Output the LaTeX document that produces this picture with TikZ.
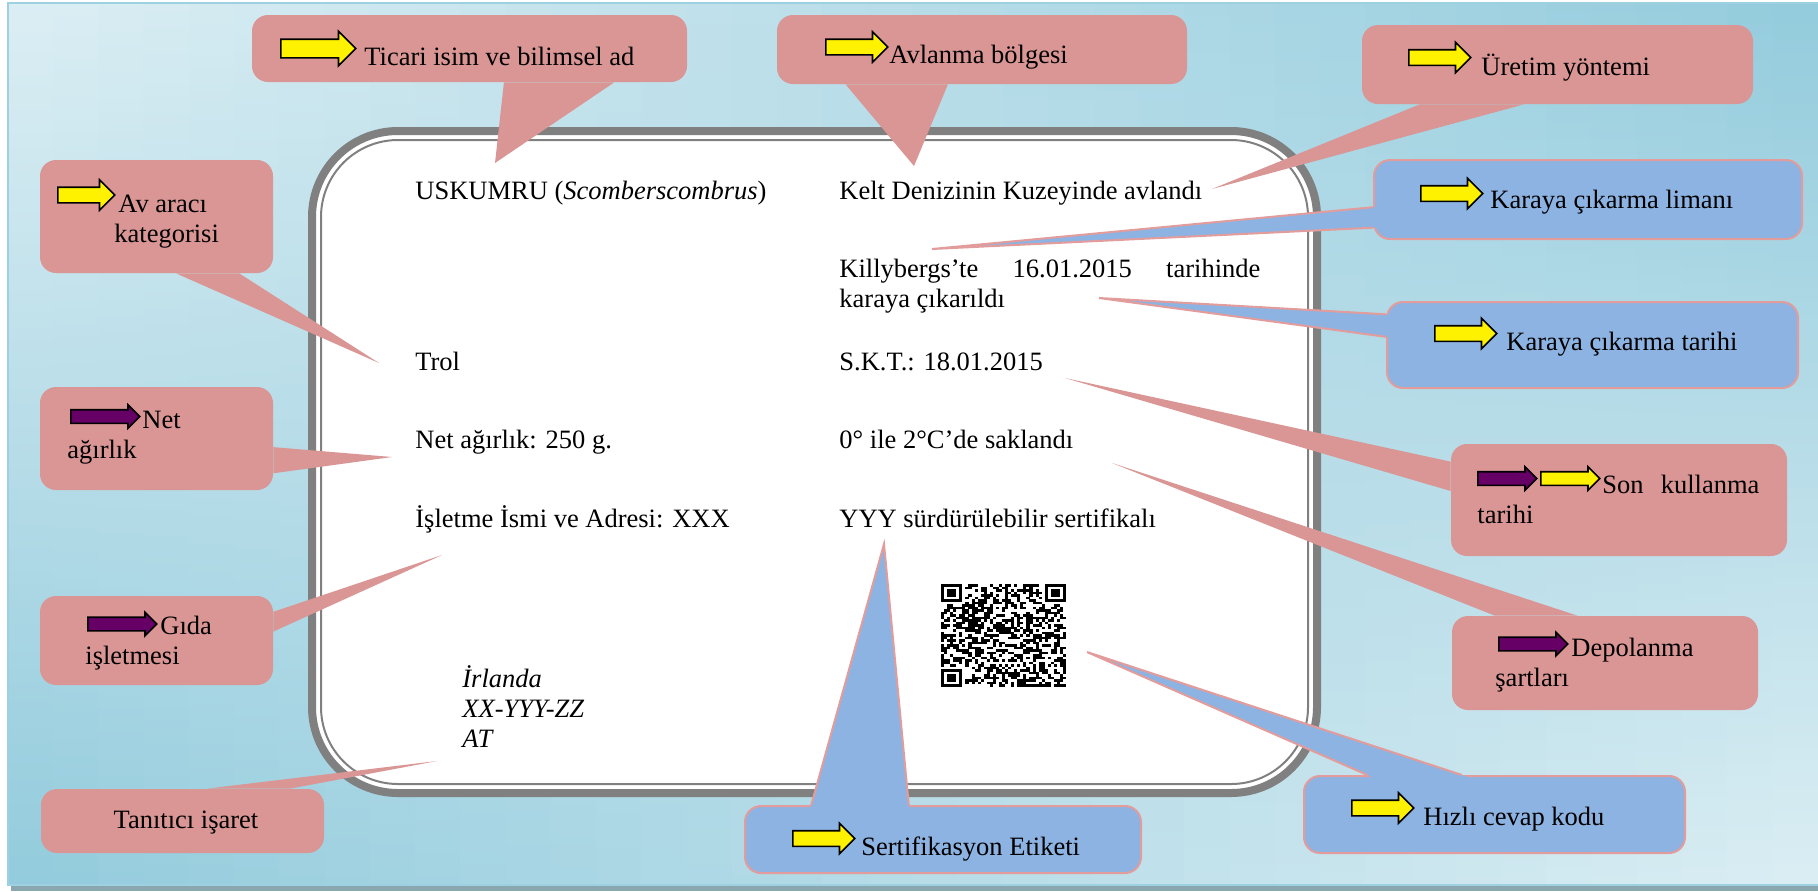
\documentclass[tikz,border=0pt]{standalone}
\usepackage{fontspec}
\setmainfont{Liberation Serif}
\usetikzlibrary{calc, shapes.arrows}

\definecolor{bglight}{HTML}{DCEEF4}
\definecolor{bgdark}{HTML}{92CBDC}
\definecolor{bgedge}{HTML}{9DD0E0}
\definecolor{bgshadow}{HTML}{8AA6AE}
\definecolor{pinkc}{HTML}{D99694}
\definecolor{bluec}{HTML}{8DB3E2}
\definecolor{edgec}{HTML}{E39C9C}
\definecolor{labelgray}{HTML}{808080}
\definecolor{plum}{HTML}{660066}

\tikzset{
  pinkbox/.style={fill=pinkc, rounded corners=8pt, inner sep=0pt},
  bluebox/.style={fill=bluec, draw=edgec, line width=1pt, rounded corners=8pt, inner sep=0pt},
  txt/.style={anchor=base west, inner sep=0pt, font=\fontsize{13.25}{15.2}\selectfont},
  icon/.style={single arrow, draw=black, line width=0.8pt, anchor=tail, inner xsep=0pt,
    text height=0pt, text depth=0pt, single arrow head indent=0pt},
  yicon/.style={icon, fill=yellow, inner ysep=3.5pt, single arrow head extend=3.75pt, minimum height=31pt},
  picon/.style={icon, fill=plum, inner ysep=3pt, single arrow head extend=2.5pt, minimum height=34.5pt},
}

\begin{document}
\begin{tikzpicture}[x=0.5pt, y=-0.5pt]
  \useasboundingbox (0,0) rectangle (1818,891);

  % background
  \fill[bgshadow] (11,880) rectangle (1818,891);
  \foreach \i [evaluate=\i as \p using int(2.5*\i+1)] in {0,...,39}{
    \shade[top color=bgdark!\p!bglight, bottom color=bglight!\p!bgdark]
      (8+\i*45.25,3) rectangle (8+\i*45.25+46.5,885);
  }
  \draw[bgedge, line width=1pt] (1818,3) -- (8,3) -- (8,885) -- (1818,885);

  % label
  \fill[white, rounded corners=43pt] (312,131) rectangle (1317,793);
  \draw[labelgray, line width=4pt, rounded corners=43pt] (312,131) rectangle (1317,793);
  \draw[labelgray, line width=1pt, rounded corners=38.5pt] (321,140) rectangle (1308,784);

  \node[txt] (uskumru) at (415,199) {USKUMRU (\textit{Scomberscombrus})};
  \node[txt] (kelt) at (839,199) {Kelt Denizinin Kuzeyinde avlandı};
  \node[txt] (killy) at (839,277) {\parbox[t]{210.5pt}{Killybergs’te\hfill 16.01.2015\hfill tarihinde\\karaya çıkarıldı}};
  \node[txt] (trol) at (415,370) {Trol};
  \node[txt] (skt) at (839,370) {S.K.T.: 18.01.2015};
  \node[txt] (netag) at (415,448) {Net ağırlık: 250 g.};
  \node[txt] (sakla) at (839,448) {0° ile 2°C’de saklandı};
  \node[txt] (isletme) at (415,527) {İşletme İsmi ve Adresi: XXX};
  \node[txt] (yyy) at (839,527) {YYY sürdürülebilir sertifikalı};
  \node[txt, font=\fontsize{13.25}{15}\selectfont\itshape] (irlanda) at (462,687) {\parbox[t]{100pt}{İrlanda\\XX-YYY-ZZ\\AT}};

  % qr code
  \begin{scope}[shift={(941,584)}]
    \pgfmathsetseed{11}
    \foreach \qrow in {0,...,40}{
      \foreach \qcol in {0,...,40}{
        \pgfmathrandominteger{\b}{0}{1}
        \pgfmathtruncatemacro{\z}{or(and(\qrow<8,\qcol<8), or(and(\qrow<8,\qcol>32), and(\qrow>32,\qcol<8)))}
        \ifnum\z=0 \ifnum\b=1 \fill (\qcol*3.05,\qrow*2.51) rectangle ++(3.1,2.56); \fi\fi
      }
    }
    \foreach \fx/\fy in {0/0, 34/0, 0/34}{
      \fill (\fx*3.05,\fy*2.51) rectangle ++(7*3.05,7*2.51);
      \fill[white] (\fx*3.05+3.05,\fy*2.51+2.51) rectangle ++(5*3.05,5*2.51);
      \fill (\fx*3.05+6.1,\fy*2.51+5.02) rectangle ++(3*3.05,3*2.51);
    }
  \end{scope}

  % pointer tips
  \coordinate (tipTicari) at (495,163);
  \coordinate (tipAvlanma) at (914,166);
  \coordinate (tipUretim) at (1212,189);
  \coordinate (tipLiman) at (932,249);
  \coordinate (tipTarihi) at (1099,298);
  \coordinate (tipSkt) at (1065,378);
  \coordinate (tipDepo) at (1112,463);
  \coordinate (tipHizli) at (1087,652);
  \coordinate (tipSertifika) at (884,544);
  \coordinate (tipAv) at (379,363);
  \coordinate (tipNet) at (392,457);
  \coordinate (tipGida) at (442,555);
  \coordinate (tipTanitici) at (437,761);

  % pink callouts
  \node[pinkbox, minimum width=217.5pt, minimum height=33.5pt] (ticari) at (469.5,48.5) {};
  \fill[pinkc] ($(ticari.south west)!.579!(ticari.south east)$) -- (tipTicari) -- ($(ticari.south west)!.832!(ticari.south east)$) -- cycle;
  \node[yicon, minimum height=37.5pt, inner ysep=4.25pt, single arrow head extend=4pt] (ticariok) at (280,48.5) {};
  \node[txt] (ticaritxt) at (364,65) {Ticari isim ve bilimsel ad};

  \node[pinkbox, minimum width=205pt, minimum height=34.5pt] (avlanma) at (982,49.5) {};
  \fill[pinkc] ($(avlanma.south west)!.168!(avlanma.south east)$) -- (tipAvlanma) -- ($(avlanma.south west)!.417!(avlanma.south east)$) -- cycle;
  \node[yicon] (avlanmaok) at (825,47) {};
  \node[txt] (avlanmatxt) at (889,63) {Avlanma bölgesi};

  \node[pinkbox, minimum width=195.5pt, minimum height=39.5pt] (uretim) at (1557.5,64.5) {};
  \fill[pinkc] ($(uretim.south west)!.148!(uretim.south east)$) -- (tipUretim) -- ($(uretim.south west)!.414!(uretim.south east)$) -- cycle;
  \node[yicon] (uretimok) at (1408,57.5) {};
  \node[txt] (uretimtxt) at (1481,75) {Üretim yöntemi};

  \node[pinkbox, minimum width=168pt, minimum height=56pt] (sktbox) at (1619,500) {};
  \fill[pinkc] ($(sktbox.north west)!.16!(sktbox.south west)$) -- (tipSkt) -- ($(sktbox.north west)!.42!(sktbox.south west)$) -- cycle;
  \node[picon, minimum height=29.5pt] (sktmor) at (1477,478.5) {};
  \node[picon, fill=yellow, minimum height=29.5pt] (sktok) at (1540,478.5) {};
  \node[txt] (skttxt) at (1477,493) {\parbox[t]{141pt}{\hspace*{62.5pt}Son\hfill kullanma\\tarihi}};

  \node[pinkbox, minimum width=153pt, minimum height=47pt] (depo) at (1605,663) {};
  \fill[pinkc] ($(depo.north west)!.14!(depo.north east)$) -- (tipDepo) -- ($(depo.north west)!.41!(depo.north east)$) -- cycle;
  \node[picon] (depomor) at (1498,644) {};
  \node[txt] (depotxt) at (1495,656) {\parbox[t]{120pt}{\hspace*{38pt}Depolanma\\şartları}};

  \node[pinkbox, minimum width=116.5pt, minimum height=56.5pt] (avarac) at (156.5,216.5) {};
  \fill[pinkc] ($(avarac.south west)!.584!(avarac.south east)$) -- (tipAv) -- ($(avarac.south west)!.854!(avarac.south east)$) -- cycle;
  \node[yicon, minimum height=28.5pt] (avok) at (57,195) {};
  \node[txt] (avtxt) at (114,212) {\parbox[t]{80pt}{\hspace*{2pt}Av aracı\\kategorisi}};

  \node[pinkbox, minimum width=116.5pt, minimum height=51.5pt] (net) at (156.5,438.5) {};
  \fill[pinkc] ($(net.north east)!.583!(net.south east)$) -- (tipNet) -- ($(net.north east)!.835!(net.south east)$) -- cycle;
  \node[picon] (netmor) at (70,416.5) {};
  \node[txt] (nettxt) at (67,428) {\parbox[t]{80pt}{\hspace*{37.5pt}Net\\ağırlık}};

  \node[pinkbox, minimum width=116.5pt, minimum height=44.5pt] (gida) at (156.5,640.5) {};
  \fill[pinkc] ($(gida.north east)!.18!(gida.south east)$) -- (tipGida) -- ($(gida.north east)!.40!(gida.south east)$) -- cycle;
  \node[picon] (gidamor) at (87,624) {};
  \node[txt] (gidatxt) at (85,634) {\parbox[t]{80pt}{\hspace*{37.5pt}Gıda\\işletmesi}};

  \node[pinkbox, minimum width=141.5pt, minimum height=32pt] (tanitici) at (182.5,821) {};
  \fill[pinkc] ($(tanitici.north west)!.587!(tanitici.north east)$) -- (tipTanitici) -- ($(tanitici.north west)!.88!(tanitici.north east)$) -- cycle;
  \node[txt, anchor=base] (tanitxt) at (186,828) {Tanıtıcı işaret};

  % blue callouts
  \node[bluebox, minimum width=214pt, minimum height=39.5pt] (liman) at (1588,199.5) {};
  \coordinate (limanA) at ($(liman.north west)!.595!(liman.south west)$);
  \coordinate (limanB) at ($(liman.north west)!.848!(liman.south west)$);
  \fill[bluec] ($(tipLiman)!1.04!(limanA)$) -- (tipLiman) -- ($(tipLiman)!1.04!(limanB)$) -- cycle;
  \draw[edgec, line width=1pt] (limanA) -- (tipLiman) -- (limanB);
  \node[yicon] (limanok) at (1420,193.5) {};
  \node[txt] (limantxt) at (1490,208) {Karaya çıkarma limanı};

  \node[bluebox, minimum width=205.5pt, minimum height=43pt] (tarihi) at (1592.5,345) {};
  \coordinate (tarihiA) at ($(tarihi.north west)!.151!(tarihi.south west)$);
  \coordinate (tarihiB) at ($(tarihi.north west)!.407!(tarihi.south west)$);
  \fill[bluec] ($(tipTarihi)!1.04!(tarihiA)$) -- (tipTarihi) -- ($(tipTarihi)!1.04!(tarihiB)$) -- cycle;
  \draw[edgec, line width=1pt] (tarihiA) -- (tipTarihi) -- (tarihiB);
  \node[yicon] (tarihiok) at (1434,333.5) {};
  \node[txt] (tarihitxt) at (1506,350) {Karaya çıkarma tarihi};

  \node[bluebox, minimum width=190.5pt, minimum height=38.5pt] (hizli) at (1494.5,814.5) {};
  \coordinate (hizliA) at ($(hizli.north west)!.168!(hizli.north east)$);
  \coordinate (hizliB) at ($(hizli.north west)!.415!(hizli.north east)$);
  \fill[bluec] ($(tipHizli)!1.04!(hizliA)$) -- (tipHizli) -- ($(tipHizli)!1.04!(hizliB)$) -- cycle;
  \draw[edgec, line width=1pt] (hizliA) -- (tipHizli) -- (hizliB);
  \node[yicon] (hizliok) at (1351,808) {};
  \node[txt] (hizlitxt) at (1423,825) {Hızlı cevap kodu};

  \node[bluebox, minimum width=198pt, minimum height=33.5pt] (sertifika) at (943,839.5) {};
  \coordinate (sertifikaA) at ($(sertifika.north west)!.169!(sertifika.north east)$);
  \coordinate (sertifikaB) at ($(sertifika.north west)!.414!(sertifika.north east)$);
  \fill[bluec] ($(tipSertifika)!1.04!(sertifikaA)$) -- (tipSertifika) -- ($(tipSertifika)!1.04!(sertifikaB)$) -- cycle;
  \draw[edgec, line width=1pt] (sertifikaA) -- (tipSertifika) -- (sertifikaB);
  \node[yicon] (sertifikaok) at (792,838.5) {};
  \node[txt] (sertifikatxt) at (861,855) {Sertifikasyon Etiketi};
\end{tikzpicture}
\end{document}
